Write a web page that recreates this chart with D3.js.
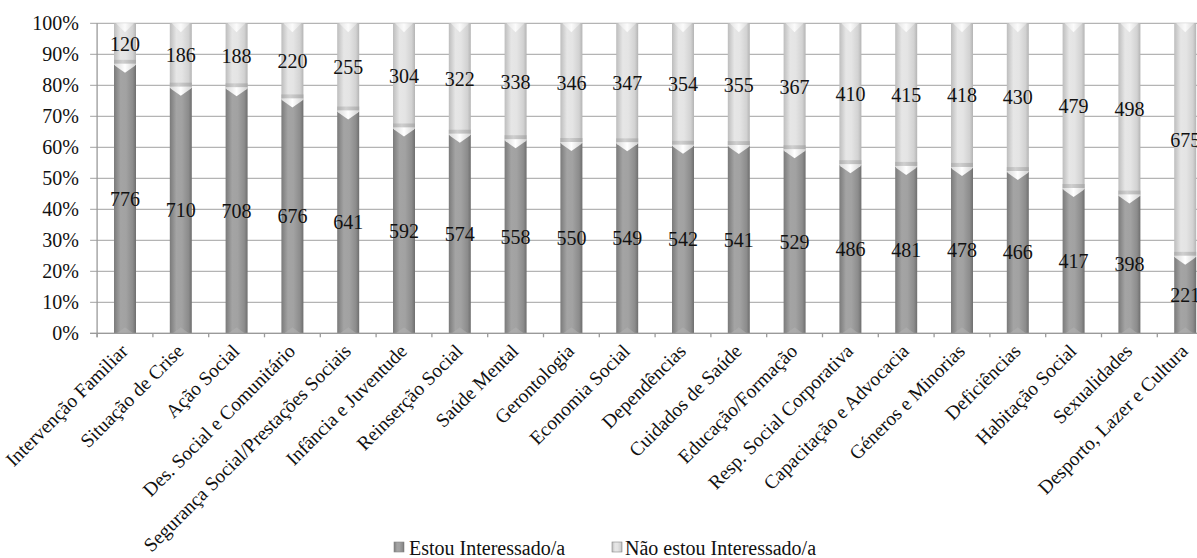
<!DOCTYPE html>
<html>
<head>
<meta charset="utf-8">
<script src="https://cdn.jsdelivr.net/npm/d3@7"></script>
<style>
  html, body { margin: 0; padding: 0; background: #ffffff; }
  svg { display: block; }
</style>
</head>
<body>
<svg id="chart" width="1197" height="558" font-family="'Liberation Serif', 'Times New Roman', 'DejaVu Serif', serif"></svg>
<script>
const categories = [
  "Intervenção Familiar", "Situação de Crise", "Ação Social", "Des. Social e Comunitário",
  "Segurança Social/Prestações Sociais", "Infância e Juventude", "Reinserção Social",
  "Saúde Mental", "Gerontologia", "Economia Social", "Dependências", "Cuidados de Saúde",
  "Educação/Formação", "Resp. Social Corporativa", "Capacitação e Advocacia",
  "Géneros e Minorias", "Deficiências", "Habitação Social", "Sexualidades",
  "Desporto, Lazer e Cultura"
];
const interessado = [776, 710, 708, 676, 641, 592, 574, 558, 550, 549, 542, 541, 529, 486, 481, 478, 466, 417, 398, 221];
const naoInteressado = [120, 186, 188, 220, 255, 304, 322, 338, 346, 347, 354, 355, 367, 410, 415, 418, 430, 479, 498, 675];
const seriesNames = ["Estou Interessado/a", "Não estou Interessado/a"];
const yTicks = [0, 0.1, 0.2, 0.3, 0.4, 0.5, 0.6, 0.7, 0.8, 0.9, 1.0];

const FONT = "'Liberation Serif', 'Times New Roman', 'DejaVu Serif', serif";
const svg = d3.select("#chart");
const plot = { left: 97.1, top: 23.3, bottom: 333.3, step: 55.8 };
const plotRight = plot.left + plot.step * categories.length;

const x = d3.scaleBand().domain(categories).range([plot.left, plotRight])
  .paddingInner(0.606).paddingOuter(0.303);
const y = d3.scaleLinear().domain([0, 1]).range([plot.bottom, plot.top]);
const bw = x.bandwidth();
const step = x.step();

// gradients
const defs = svg.append("defs");
function hGrad(id, stops) {
  const g = defs.append("linearGradient").attr("id", id)
    .attr("x1", "0%").attr("x2", "100%").attr("y1", "0%").attr("y2", "0%");
  stops.forEach(s => g.append("stop").attr("offset", s[0]).attr("stop-color", s[1]));
}
hGrad("gDark", [["0%", "#7a7a7a"], ["30%", "#a4a4a4"], ["55%", "#a2a2a2"], ["85%", "#8c8c8c"], ["100%", "#6e6e6e"]]);
hGrad("gLight", [["0%", "#bdbdbd"], ["30%", "#e6e6e6"], ["55%", "#e4e4e4"], ["85%", "#d2d2d2"], ["100%", "#b4b4b4"]]);
hGrad("gCapD", [["0%", "#d8d8d8"], ["50%", "#ffffff"], ["100%", "#d0d0d0"]]);
hGrad("gCapL", [["0%", "#e4e4e4"], ["50%", "#fbfbfb"], ["100%", "#dcdcdc"]]);
hGrad("gBand", [["0%", "#a8a8a8"], ["40%", "#c9c9c9"], ["100%", "#a4a4a4"]]);

function styleText(sel, size) {
  return sel.attr("font-family", FONT).attr("font-size", size).attr("fill", "#111");
}

// gridlines
const grid = svg.append("g");
grid.selectAll("line").data(yTicks).join("line")
  .attr("x1", plot.left - 7).attr("x2", 1197)
  .attr("y1", d => y(d)).attr("y2", d => y(d))
  .attr("stroke", "#b4b4b4").attr("stroke-width", 1.3);

// y-axis line
svg.append("line").attr("x1", plot.left).attr("x2", plot.left)
  .attr("y1", y(1)).attr("y2", y(0) + 4).attr("stroke", "#9a9a9a").attr("stroke-width", 1.3);

// y labels
styleText(svg.append("g").selectAll("text").data(yTicks).join("text"), 20)
  .attr("x", 79).attr("y", d => y(d)).attr("dy", "0.34em")
  .attr("text-anchor", "end")
  .text(d => d3.format(".0%")(d));

// bars
const data = categories.map((c, i) => {
  const tot = interessado[i] + naoInteressado[i];
  return { c, a: interessado[i], b: naoInteressado[i], pa: interessado[i] / tot };
});

const bars = svg.append("g");
data.forEach(d => {
  const x0 = x(d.c), x1 = x0 + bw, xm = x0 + bw / 2;
  const g = bars.append("g");
  g.append("rect").attr("x", x0).attr("width", bw)
    .attr("y", y(d.pa)).attr("height", y(0) - y(d.pa)).attr("fill", "url(#gDark)");
  g.append("rect").attr("x", x0).attr("width", bw)
    .attr("y", y(1)).attr("height", y(d.pa) - y(1)).attr("fill", "url(#gLight)");
  g.append("rect").attr("x", x0).attr("width", bw)
    .attr("y", y(d.pa) - 5).attr("height", 4).attr("fill", "url(#gBand)").attr("opacity", 0.8);
  g.append("polygon")
    .attr("points", [[x0, y(d.pa) - 1], [x1, y(d.pa) - 1], [x1 - 1, y(d.pa) + 1], [xm, y(d.pa) + 8], [x0 + 1, y(d.pa) + 1]].map(p => p.join(",")).join(" "))
    .attr("fill", "url(#gCapD)");
  g.append("polygon")
    .attr("points", [[x0 + 2, y(1)], [x1 - 2, y(1)], [xm, y(1) + 9]].map(p => p.join(",")).join(" "))
    .attr("fill", "url(#gCapL)");
  g.append("polygon")
    .attr("points", [[x0 + 3, y(0)], [x1 - 3, y(0)], [xm, y(0) - 6]].map(p => p.join(",")).join(" "))
    .attr("fill", "#b0b0b0").attr("opacity", 0.6);
});

// x axis line and ticks
svg.append("line").attr("x1", plot.left - 7).attr("x2", 1197)
  .attr("y1", y(0)).attr("y2", y(0)).attr("stroke", "#9a9a9a").attr("stroke-width", 1.3);
const boundaries = categories.map(c => x(c) + bw / 2 - step / 2).concat([plotRight]);
svg.append("g").selectAll("line").data(boundaries).join("line")
  .attr("x1", d => d).attr("x2", d => d)
  .attr("y1", y(0)).attr("y2", y(0) + 4).attr("stroke", "#9a9a9a").attr("stroke-width", 1.3);

// data labels
const labels = svg.append("g");
styleText(labels.selectAll("text.a").data(data).join("text").attr("class", "a"), 20)
  .attr("x", d => x(d.c) + bw / 2).attr("y", d => y(d.pa / 2)).attr("dy", "0.34em")
  .attr("text-anchor", "middle").text(d => d.a);
styleText(labels.selectAll("text.b").data(data).join("text").attr("class", "b"), 20)
  .attr("x", d => x(d.c) + bw / 2).attr("y", d => y((d.pa + 1) / 2)).attr("dy", "0.34em")
  .attr("text-anchor", "middle").text(d => d.b);

// category labels
styleText(svg.append("g").selectAll("text").data(categories).join("text"), 19.5)
  .attr("transform", c => `translate(${x(c) + bw / 2 + 4},${y(0) + 19}) rotate(-45)`)
  .attr("text-anchor", "end")
  .text(c => c);

// legend
const legend = svg.append("g");
const legItems = [
  { name: seriesNames[0], fill: "url(#gDark)", sx: 394, tx: 409 },
  { name: seriesNames[1], fill: "url(#gLight)", sx: 612, tx: 625 }
];
legItems.forEach(it => {
  legend.append("rect").attr("x", it.sx).attr("y", 542).attr("width", 10).attr("height", 10)
    .attr("fill", it.fill).attr("stroke", "#888").attr("stroke-width", 0.6);
  styleText(legend.append("text"), 20).attr("x", it.tx).attr("y", 555).text(it.name);
});
</script>
</body>
</html>
